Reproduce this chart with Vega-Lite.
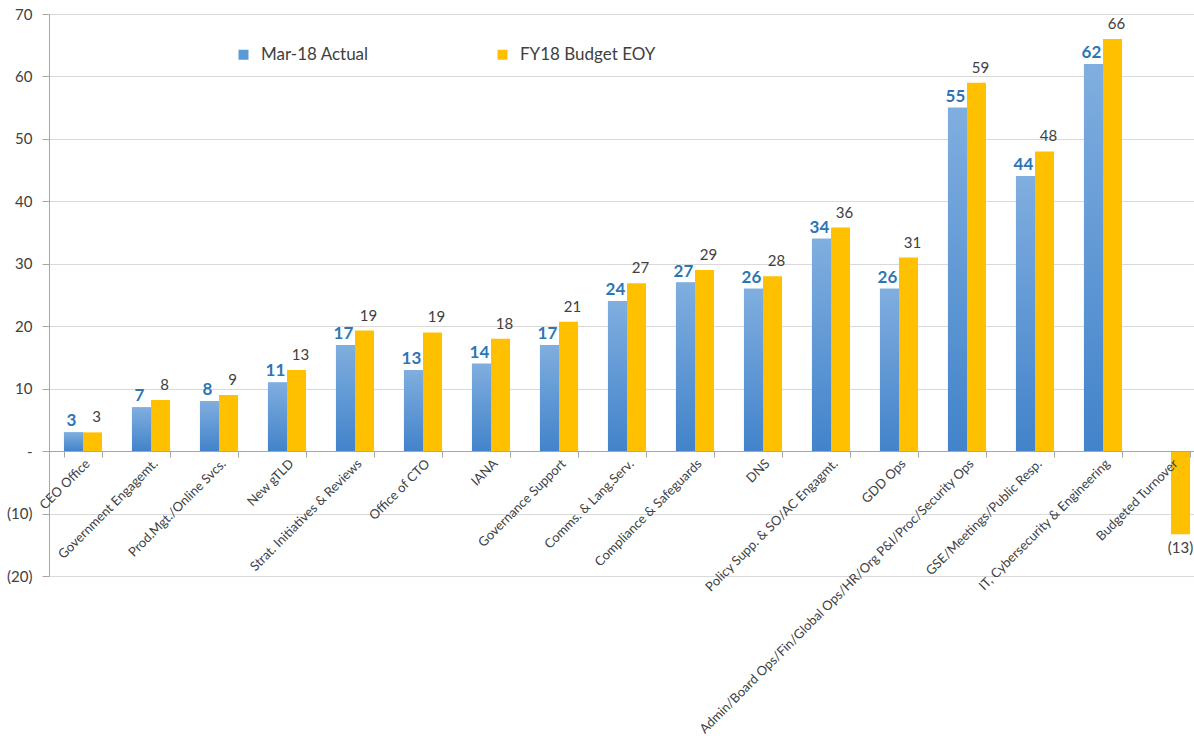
{
  "$schema": "https://vega.github.io/schema/vega-lite/v6.json",
  "width": 1156,
  "height": 562,
  "autosize": {"type": "none"},
  "padding": {"left": 49, "top": 14, "right": 0, "bottom": 160},
  "background": "white",
  "config": {"view": {"stroke": null}, "font": "Lato"},
  "data": {
    "values": [
      {"cat": "CEO Office", "series": "Mar-18 Actual", "value": 3},
      {"cat": "CEO Office", "series": "FY18 Budget EOY", "value": 3},
      {"cat": "Government Engagemt.", "series": "Mar-18 Actual", "value": 7},
      {"cat": "Government Engagemt.", "series": "FY18 Budget EOY", "value": 8.2},
      {"cat": "Prod.Mgt./Online Svcs.", "series": "Mar-18 Actual", "value": 8},
      {"cat": "Prod.Mgt./Online Svcs.", "series": "FY18 Budget EOY", "value": 9},
      {"cat": "New gTLD", "series": "Mar-18 Actual", "value": 11},
      {"cat": "New gTLD", "series": "FY18 Budget EOY", "value": 13},
      {"cat": "Strat. Initiatives & Reviews", "series": "Mar-18 Actual", "value": 17},
      {"cat": "Strat. Initiatives & Reviews", "series": "FY18 Budget EOY", "value": 19.3},
      {"cat": "Office of CTO", "series": "Mar-18 Actual", "value": 13},
      {"cat": "Office of CTO", "series": "FY18 Budget EOY", "value": 19},
      {"cat": "IANA", "series": "Mar-18 Actual", "value": 14},
      {"cat": "IANA", "series": "FY18 Budget EOY", "value": 18},
      {"cat": "Governance Support", "series": "Mar-18 Actual", "value": 17},
      {"cat": "Governance Support", "series": "FY18 Budget EOY", "value": 20.7},
      {"cat": "Comms. & Lang.Serv.", "series": "Mar-18 Actual", "value": 24},
      {"cat": "Comms. & Lang.Serv.", "series": "FY18 Budget EOY", "value": 26.9},
      {"cat": "Compliance & Safeguards", "series": "Mar-18 Actual", "value": 27},
      {"cat": "Compliance & Safeguards", "series": "FY18 Budget EOY", "value": 29},
      {"cat": "DNS", "series": "Mar-18 Actual", "value": 26},
      {"cat": "DNS", "series": "FY18 Budget EOY", "value": 28},
      {"cat": "Policy Supp. & SO/AC Engagmt.", "series": "Mar-18 Actual", "value": 34},
      {"cat": "Policy Supp. & SO/AC Engagmt.", "series": "FY18 Budget EOY", "value": 35.8},
      {"cat": "GDD Ops", "series": "Mar-18 Actual", "value": 26},
      {"cat": "GDD Ops", "series": "FY18 Budget EOY", "value": 31},
      {"cat": "Admin/Board Ops/Fin/Global Ops/HR/Org P&I/Proc/Security Ops", "series": "Mar-18 Actual", "value": 55},
      {"cat": "Admin/Board Ops/Fin/Global Ops/HR/Org P&I/Proc/Security Ops", "series": "FY18 Budget EOY", "value": 59},
      {"cat": "GSE/Meetings/Public Resp.", "series": "Mar-18 Actual", "value": 44},
      {"cat": "GSE/Meetings/Public Resp.", "series": "FY18 Budget EOY", "value": 48},
      {"cat": "IT, Cybersecurity & Engineering", "series": "Mar-18 Actual", "value": 62},
      {"cat": "IT, Cybersecurity & Engineering", "series": "FY18 Budget EOY", "value": 66},
      {"cat": "Budgeted Turnover", "series": "FY18 Budget EOY", "value": -13.3}
    ]
  },
  "encoding": {
    "x": {
      "field": "cat", "type": "nominal", "sort": null,
      "scale": {"paddingInner": 0.44, "paddingOuter": 0.22},
      "axis": {
        "title": null, "labelAngle": -45, "labelFontSize": 13, "labelColor": "#404040",
        "domainColor": "#A6A6A6", "tickColor": "#A6A6A6", "tickBand": "extent",
        "tickSize": 6, "offset": -125, "grid": false, "labelPadding": 0, "labelLimit": 500,
        "zindex": 1
      }
    },
    "xOffset": {
      "field": "series", "type": "nominal", "sort": null,
      "scale": {"domain": ["Mar-18 Actual", "FY18 Budget EOY"], "paddingInner": 0, "paddingOuter": 0}
    },
    "y": {
      "field": "value", "type": "quantitative",
      "scale": {"domain": [-20, 70], "nice": false, "zero": false},
      "axis": {
        "title": null, "values": [-20, -10, 0, 10, 20, 30, 40, 50, 60, 70],
        "labelExpr": "datum.value === 0 ? '-' : format(datum.value, '(.0f')",
        "grid": true, "gridColor": "#D9D9D9", "domainColor": "#A6A6A6", "tickColor": "#A6A6A6",
        "tickSize": 7, "labelFontSize": 15, "labelColor": "#404040", "labelPadding": 10
      }
    }
  },
  "layer": [
    {
      "mark": {"type": "bar"},
      "encoding": {
        "color": {
          "field": "series", "type": "nominal",
          "scale": {"domain": ["Mar-18 Actual", "FY18 Budget EOY"], "range": ["#5B9BD5", "#FFC000"]},
          "legend": {
            "orient": "none", "legendX": 186, "legendY": 32, "direction": "horizontal",
            "title": null, "symbolType": "square", "symbolSize": 100, "labelFontSize": 17,
            "labelColor": "#404040", "columnPadding": 125, "labelOffset": 9, "symbolStrokeWidth": 0
          }
        }
      }
    },
    {
      "transform": [{"filter": "datum.series === 'Mar-18 Actual'"}],
      "mark": {
        "type": "bar",
        "color": {
          "gradient": "linear", "x1": 0, "y1": 0, "x2": 0, "y2": 1,
          "stops": [{"offset": 0, "color": "#80AEDF"}, {"offset": 1, "color": "#4283CA"}]
        }
      }
    },
    {
      "transform": [{"filter": "datum.series === 'Mar-18 Actual'"}],
      "mark": {"type": "text", "fontWeight": "bold", "fontSize": 17, "color": "#2E75B6", "baseline": "bottom", "dy": -2, "dx": -2},
      "encoding": {"text": {"field": "value", "type": "quantitative", "format": "(.0f"}}
    },
    {
      "transform": [{"filter": "datum.series === 'FY18 Budget EOY' && datum.value >= 0"}],
      "mark": {"type": "text", "fontSize": 15, "color": "#404040", "baseline": "bottom", "dy": -7, "dx": 4},
      "encoding": {"text": {"field": "value", "type": "quantitative", "format": "(.0f"}}
    },
    {
      "transform": [{"filter": "datum.series === 'FY18 Budget EOY' && datum.value < 0"}],
      "mark": {"type": "text", "fontSize": 15, "color": "#404040", "baseline": "top", "dy": 7},
      "encoding": {"text": {"field": "value", "type": "quantitative", "format": "(.0f"}}
    }
  ]
}
